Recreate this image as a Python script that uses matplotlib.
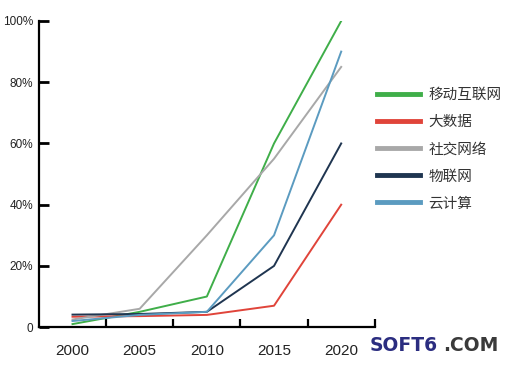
import matplotlib.pyplot as plt
from matplotlib.ticker import FixedLocator

plt.rcParams['font.family'] = ['Liberation Sans', 'Noto Sans CJK SC', 'DejaVu Sans']

# data (percent)
years = ['2000', '2005', '2010', '2015', '2020']
series_names = ['移动互联网', '大数据', '社交网络', '物联网', '云计算']
mobile = [1, 5, 10, 60, 100]
bigdata = [3.4, 3.6, 4, 7, 40]
social = [2.5, 6, 30, 55, 85]
iot = [4.1, 4.3, 5, 20, 60]
cloud = [2, 4, 5, 30, 90]
colors = ['#3fae49', '#e0443a', '#a8a8a8', '#1f3550', '#5b9bc0']

fig = plt.figure(figsize=(5.12, 3.68), dpi=100)
ax = fig.add_axes([0.076, 0.111, 0.656, 0.832])

x = range(len(years))
for vals, name, c in zip([mobile, bigdata, social, iot, cloud], series_names, colors):
    ax.plot(x, vals, color=c, lw=1.4, label=name)

ax.set_xlim(-0.5, 4.5)
ax.set_ylim(0, 100)
ax.spines['top'].set_visible(False)
ax.spines['right'].set_visible(False)
ax.spines['left'].set_linewidth(1.6)
ax.spines['bottom'].set_linewidth(1.6)

ax.set_xticks(list(x))
ax.set_xticklabels(years, fontsize=11, color='#222222')
ax.tick_params(axis='x', which='major', length=0, pad=12)
ax.xaxis.set_minor_locator(FixedLocator([0.5, 1.5, 2.5, 3.5, 4.5]))
ax.tick_params(axis='x', which='minor', direction='in', length=6, width=1.6)

yt = [0, 20, 40, 60, 80, 100]
ax.set_yticks(yt)
ax.set_yticklabels(['0'] + [f'{v}%' for v in yt[1:]], fontsize=8.5, color='#222222')
ax.tick_params(axis='y', direction='in', length=7, width=2, pad=4)

leg = ax.legend(loc='upper left', bbox_to_anchor=(0.99, 0.80), frameon=False,
                prop={'family': ['Noto Sans CJK SC'], 'size': 10.5},
                handlelength=2.9, handletextpad=0.6, labelspacing=0.9,
                borderaxespad=0.0)
for line in leg.get_lines():
    line.set_linewidth(3.5)
for t in leg.get_texts():
    t.set_color('#333333')

fig.text(0.722, 0.062, 'SOFT6', fontsize=13.5, fontweight='bold', color='#2b2d80',
         family='DejaVu Sans', va='center')
fig.text(0.866, 0.062, '.COM', fontsize=13.5, fontweight='bold', color='#3a3a3a',
         family='DejaVu Sans', va='center')

fig.savefig('out.png', dpi=100)
